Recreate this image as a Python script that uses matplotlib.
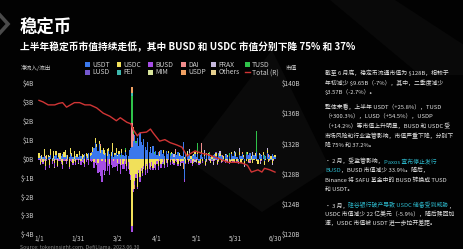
import matplotlib
matplotlib.use("Agg")
import matplotlib.pyplot as plt
from matplotlib.patches import Rectangle, Polygon
from matplotlib.lines import Line2D
from matplotlib.text import Annotation
import numpy as np

plt.rcParams['font.family'] = ['Noto Sans CJK SC', 'DejaVu Sans']

# ---------------------------------------------------------------- data ($B)
N_DAYS = 181
tick_days = [0, 30, 60, 90, 120, 150, 180]
tick_labels = ['1/1', '1/31', '3/2', '4/1', '5/1', '5/31', '6/30']
flow_ticks = [-4, -3, -2, -1, 0, 1, 2, 3, 4]
cap_ticks = [120, 124, 128, 132, 136, 140]

usdt = [
    0.05, 0.12, -0.05, 0.08, 0.15, 0.03, -0.08, 0.10, 0.06, 0.18,
    0.04, -0.06, 0.12, 0.20, 0.05, 0.09, -0.04, 0.14, 0.22, 0.07,
    0.10, 0.16, -0.05, 0.08, 0.25, 0.12, 0.06, -0.07, 0.15, 0.10,
    0.08, 0.18, 0.12, -0.06, 0.10, 0.22, 0.15, 0.05, 0.30, 0.12,
    0.20, 0.35, 0.55, 0.80, 0.62, 0.40, 0.75, 0.30, 0.45, 0.25,
    0.18, 0.30, 0.12, 0.40, 0.22, 0.15, 0.35, 0.10, 0.20, 0.28,
    0.15, 0.25, 0.10, 0.30, 0.18, 0.12, 0.35, 0.20, 0.15, 0.45,
    0.55, 0.60, 0.95, 1.25, 0.80, 1.10, 0.65, 1.35, 0.90, 0.70,
    1.05, 0.60, 0.45, 0.85, 0.35, 0.55, 0.30, 0.65, 0.25, 0.40,
    0.20, 0.35, 0.15, 0.45, 0.25, 0.30, 0.12, 0.38, 0.20, 0.28,
    0.15, 0.22, 0.30, 0.10, 0.25, 0.18, 0.32, 0.12, 0.20, 0.15,
    0.90, -1.10, 0.25, 0.18, 0.12, 0.30, -0.10, 0.20, 0.15, 0.25,
    0.10, 0.22, -0.12, 0.18, 0.30, 0.08, 0.15, -0.15, 0.20, 0.12,
    0.25, 0.10, -0.08, 0.18, 0.22, 0.12, -0.10, 0.28, 0.15, 0.20,
    0.10, -0.12, 0.18, 0.25, 0.08, 0.15, -0.10, 0.22, 0.12, 0.30,
    0.15, 0.10, -0.15, 0.20, 0.12, 0.25, 0.08, -0.12, 0.18, 0.22,
    0.10, 0.30, -0.08, 0.15, 0.20, 0.12, 0.35, -0.10, 0.18, 0.25,
    0.12, 0.20, -0.15, 0.15, 0.28, 0.10, 0.18, -0.08, 0.22, 0.15,
    0.10,
]

usdc = [
    0.25, -0.30, 0.15, -0.20, 0.35, -0.40, 0.20, 0.10, -0.35, 0.30,
    -0.15, 0.40, -0.25, 0.20, -0.40, 0.15, 0.30, -0.20, -0.35, 0.25,
    0.35, -0.15, 0.20, -0.45, 0.30, 0.10, -0.25, 0.40, -0.20, 0.15,
    -0.10, 0.20, -0.15, 0.25, 0.10, -0.30, 0.15, 0.20, -0.10, 0.18,
    0.10, 0.25, -0.20, 0.30, 0.15, -0.25, 0.20, 0.35, -0.15, 0.30,
    0.25, -0.20, 0.40, 0.15, -0.30, 0.20, 0.45, -0.15, 0.10, 0.30,
    -0.25, 0.15, -0.35, 0.20, -0.30, -0.15, 0.10, -0.40, -0.20, -0.60,
    -0.90, -3.60, -1.60, -1.20, -0.80, -1.50, -0.60, -1.00, -0.50, -0.75,
    -0.40, -0.60, -0.30, -0.55, -0.25, -0.45, -0.20, -0.50, -0.30, -0.35,
    -0.15, -0.40, 0.10, -0.30, -0.20, 0.15, -0.35, -0.10, -0.25, 0.12,
    -0.20, 0.10, -0.15, -0.25, 0.12, -0.10, -0.30, 0.15, -0.20, -0.12,
    -0.15, 0.10, -0.25, 0.12, -0.20, -0.10, 0.15, -0.30, -0.12, 0.10,
    -0.20, 0.15, -0.10, -0.25, 0.12, -0.15, 0.10, -0.20, -0.12, 0.15,
    -0.10, -0.22, 0.12, -0.15, -0.08, 0.18, -0.20, -0.12, 0.10, -0.18,
    -0.12, 0.15, -0.20, -0.10, 0.12, -0.25, -0.08, 0.10, -0.15, -0.20,
    0.12, -0.15, -0.10, 0.15, -0.22, -0.08, 0.10, -0.18, -0.12, 0.15,
    -0.20, -0.10, 0.12, -0.25, -0.08, 0.15, -0.12, -0.20, 0.10, -0.15,
    -0.10, 0.12, -0.20, -0.08, 0.15, -0.18, -0.10, 0.12, -0.22, -0.10,
    0.10,
]

busd = [
    -0.10, -0.05, -0.15, -0.08, -0.12, -0.20, -0.06, -0.10, -0.15, -0.05,
    -0.12, -0.08, -0.18, -0.10, -0.05, -0.15, -0.10, -0.08, -0.20, -0.12,
    -0.06, -0.15, -0.10, -0.08, -0.12, -0.18, -0.10, -0.05, -0.14, -0.10,
    -0.15, -0.10, -0.20, -0.12, -0.25, -0.15, -0.18, -0.10, -0.22, -0.15,
    -0.20, -0.15, -0.30, -0.25, -0.35, -0.50, -0.70, -0.95, -1.10, -0.60,
    -0.80, -0.45, -0.65, -0.40, -0.55, -0.35, -0.50, -0.30, -0.45, -0.38,
    -0.40, -0.30, -0.45, -0.35, -0.28, -0.42, -0.30, -0.25, -0.35, -0.20,
    -0.25, -0.30, -0.15, -0.20, -0.25, -0.12, -0.18, -0.22, -0.15, -0.20,
    -0.18, -0.25, -0.12, -0.20, -0.30, -0.15, -0.22, -0.10, -0.18, -0.25,
    -0.15, -0.20, -0.12, -0.18, -0.10, -0.22, -0.15, -0.12, -0.20, -0.10,
    -0.12, -0.08, -0.15, -0.10, -0.12, -0.08, -0.10, -0.15, -0.06, -0.10,
    -0.08, -0.12, -0.06, -0.10, -0.08, -0.05, -0.12, -0.08, -0.10, -0.06,
    -0.05, -0.08, -0.10, -0.06, -0.05, -0.08, -0.04, -0.07, -0.05, -0.06,
    -0.05, -0.04, -0.06, -0.05, -0.03, -0.06, -0.04, -0.05, -0.03, -0.04,
    -0.04, -0.03, -0.05, -0.04, -0.03, -0.05, -0.02, -0.04, -0.03, -0.04,
    -0.03, -0.04, -0.02, -0.03, -0.04, -0.02, -0.03, -0.02, -0.03, -0.02,
    -0.02, -0.03, -0.02, -0.01, -0.02, -0.03, -0.02, -0.01, -0.02, -0.01,
    -0.01, -0.02, -0.01, -0.02, -0.01, -0.01, -0.02, -0.01, -0.01, -0.01,
    -0.01,
]

# smaller coins: only the days with a visible flow
dai_days = {5: 0.08, 20: -0.06, 47: 0.10, 71: 1.30, 72: 0.35, 73: -0.20,
            92: 0.15, 104: 0.12, 124: 0.40, 140: 0.10, 161: -0.10, 175: 0.12}
frax_days = {15: 0.05, 50: -0.05, 103: 0.15, 108: -0.12, 115: 0.18, 119: -0.15,
             126: 0.20, 133: -0.12, 138: 0.15, 144: -0.18, 149: 0.12, 153: 0.20,
             157: -0.15, 163: 0.18, 169: -0.12, 174: 0.15, 178: -0.10}
tusd_days = {62: 0.10, 66: 0.12, 71: 1.40, 72: 0.20, 74: 0.15, 88: 0.12,
             100: 0.15, 121: 0.45, 130: 0.12, 145: 0.15, 158: 0.18, 166: 1.10,
             172: 0.20}
lusd_days = {40: 0.05, 98: 0.06, 135: 0.05, 160: 0.06}
fei_days = {10: -0.04, 71: 0.15, 95: -0.05, 150: 0.05}
mim_days = {8: 0.06, 30: -0.05, 60: 0.05, 113: 0.08, 142: 0.06}
usdp_days = {71: 0.35, 72: 0.15, 110: -0.30, 128: 0.08, 155: 0.07}
others_days = {2: 0.06, 12: -0.05, 25: 0.08, 85: 0.06, 118: 0.10, 147: -0.08,
               170: 0.09}

# total stablecoin market cap ($B)
total_days = [0, 3, 7, 12, 15, 18, 21, 24, 27, 31, 35, 39, 44, 49, 54, 59, 62,
              67, 70, 72, 75, 77, 82, 85, 87, 92, 96, 100, 105, 109, 113, 115,
              119, 124, 129, 134, 140, 144, 150, 155, 159, 162, 167, 170, 172,
              176, 180]
total_values = [137.7, 137.5, 137.1, 137.1, 137.3, 137.4, 136.8, 137.1, 137.4,
                137.4, 137.1, 137.1, 136.7, 136.0, 135.6, 135.0, 135.4, 134.8,
                134.6, 133.8, 133.0, 133.4, 133.5, 133.9, 133.4, 132.3, 132.5,
                132.1, 131.8, 131.5, 130.3, 130.6, 131.0, 130.7, 130.5, 130.2,
                129.8, 129.5, 129.5, 129.4, 129.1, 128.2, 128.5, 128.2, 128.7,
                128.5, 128.2]

series_names = ['USDT', 'USDC', 'BUSD', 'DAI', 'FRAX', 'TUSD',
                'LUSD', 'FEI', 'MIM', 'USDP', 'Others']
series_colors = ['#3a78ec', '#f1e05a', '#a64ee6', '#f08c8c', '#c6b8dc', '#2fc24a',
                 '#7458cf', '#3db8ad', '#d9e69c', '#f0a062', '#e6cf8e']
total_color = '#d03535'


def daily(events):
    arr = np.zeros(N_DAYS)
    for d, v in events.items():
        arr[d] = v
    return arr


series_values = [np.array(usdt), np.array(usdc), np.array(busd),
                 daily(dai_days), daily(frax_days), daily(tusd_days),
                 daily(lusd_days), daily(fei_days), daily(mim_days),
                 daily(usdp_days), daily(others_days)]

# ---------------------------------------------------------------- figure
W, H = 464, 249
BG = '#020202'
TXT = '#e4e4e4'
AXTXT = '#cfcfcf'
LINK = '#2cb6c9'

fig = plt.figure(figsize=(W / 100, H / 100), dpi=100, facecolor=BG)


def fx(x):
    return x / W


def fy(y):
    return 1 - y / H


# faint diagonal panels in the backdrop (kept behind everything)
for pts, col in [
    ([(272, 50), (188, 160), (262, 212), (330, 168)], '#0a0a0a'),
    ([(330, 0), (395, 0), (464, 45), (464, 75), (420, 75)], '#090909'),
]:
    fig.patches.append(Polygon([(fx(x), fy(y)) for x, y in pts], closed=True,
                               transform=fig.transFigure, facecolor=col,
                               edgecolor='none', zorder=-10))

# chevron mark at the top-left edge
fig.add_artist(Line2D([fx(-2), fx(8), fx(-2)], [fy(13), fy(24), fy(35)],
                      transform=fig.transFigure, color='#4a4a4a', lw=2.6,
                      solid_joinstyle='miter'))

# title and subtitle
fig.text(fx(20), fy(28), '稳定币', color='white', fontsize=12.5,
         fontweight='bold', ha='left', va='center')
fig.text(fx(20), fy(46.5),
         '上半年稳定币市值持续走低，其中 BUSD 和 USDC 市值分别下降 75% 和 37%',
         color='white', fontsize=7.0, fontweight='bold', ha='left', va='center')

# ---------------------------------------------------------------- chart
px_per_day = (275 - 39) / 180
x0 = -1.5
x1 = 181.5
left_px = 39 + x0 * px_per_day
right_px = 39 + x1 * px_per_day
ax = fig.add_axes([fx(left_px), fy(234), (right_px - left_px) / W, 151 / H])
ax.set_facecolor('none')
ax.set_zorder(1)

days = np.arange(N_DAYS)
pos_base = np.zeros(N_DAYS)
neg_base = np.zeros(N_DAYS)
for vals, col in zip(series_values, series_colors):
    pos = np.where(vals > 0, vals, 0.0)
    neg = np.where(vals < 0, vals, 0.0)
    ax.bar(days, pos, bottom=pos_base, width=0.9, color=col, linewidth=0)
    ax.bar(days, neg, bottom=neg_base, width=0.9, color=col, linewidth=0)
    pos_base += pos
    neg_base += neg

ax.set_xlim(x0, x1)
ax.set_ylim(-4, 4)
ax.set_yticks(flow_ticks)
ax.set_yticklabels([f'${v}B' for v in flow_ticks])
ax.set_xticks(tick_days)
ax.set_xticklabels(tick_labels)
ax.tick_params(axis='y', length=0, pad=2.2, labelsize=4.6, labelcolor=AXTXT)
ax.tick_params(axis='x', length=0, pad=1.0, labelsize=4.6, labelcolor=AXTXT)
for s in ax.spines.values():
    s.set_visible(False)

ax2 = ax.twinx()
ax2.set_zorder(2)
ax2.patch.set_visible(False)
ax2.plot(total_days, total_values, color=total_color, lw=1.0, zorder=5)
ax2.set_xlim(x0, x1)
ax2.set_ylim(120, 140)
ax2.set_yticks(cap_ticks)
ax2.set_yticklabels([f'${v}B' for v in cap_ticks])
ax2.tick_params(axis='y', length=0, pad=3.6, labelsize=4.6, labelcolor=AXTXT)
for s in ax2.spines.values():
    s.set_visible(False)

# axis captions
fig.text(fx(21), fy(68), '净流入/流出', color=AXTXT, fontsize=4.1,
         ha='left', va='center')
fig.text(fx(286), fy(68), '市值', color=AXTXT, fontsize=4.1,
         ha='left', va='center')

# legend, two rows of six entries
legend_cols = [85, 116.5, 148, 181.5, 211.5, 245]
legend_rows = [64.8, 72.3]
legend_items = list(zip(series_names, series_colors)) + [('Total (R)', None)]
for k, (name, col) in enumerate(legend_items):
    cx = legend_cols[k % 6]
    cy = legend_rows[k // 6]
    if col is None:
        fig.add_artist(Line2D([fx(cx), fx(cx + 5)], [fy(cy), fy(cy)],
                              transform=fig.transFigure, color=total_color,
                              lw=1.0))
    else:
        fig.patches.append(Rectangle((fx(cx), fy(cy + 2.4)), 4.8 / W, 4.8 / H,
                                     transform=fig.transFigure, facecolor=col,
                                     edgecolor='none'))
    fig.text(fx(cx + 7), fy(cy), name, color=AXTXT, fontsize=4.9,
             ha='left', va='center')

# source note
fig.text(fx(20), fy(247.5), 'Source: tokeninsight.com, DefiLlama, 2023.06.30',
         color='#8a8a8a', fontsize=3.8, ha='left', va='center')

# ---------------------------------------------------------------- commentary
TS = 4.2


def text_line(x, y, segments):
    prev = None
    for s, col in segments:
        if prev is None:
            prev = fig.text(fx(x), fy(y), s, color=col, fontsize=TS,
                            ha='left', va='center')
        else:
            prev = Annotation(s, xy=(1, 0), xycoords=prev, color=col,
                              fontsize=TS, ha='left', va='bottom',
                              annotation_clip=False)
            fig.add_artist(prev)


lines = [
    (325, 73, [('截至 6 月底，稳定币流通市值为 $128B，相较于', TXT)]),
    (325, 82.5, [('年初减少 $9.65B（-7%），其中，二季度减少', TXT)]),
    (325, 92, [('$3.57B（-2.7%）。', TXT)]),
    (325, 107, [('整体来看，上半年 USDT（+25.8%），TUSD', TXT)]),
    (325, 116.5, [('（+300.3%），LUSD（+54.5%），USDP', TXT)]),
    (325, 126, [('（+14.2%）等市值上升明显，BUSD 和 USDC 受', TXT)]),
    (325, 135.5, [('市场风险和行业监管影响，市值严重下降，分别下', TXT)]),
    (325, 145, [('降 75% 和 37.2%。', TXT)]),
    (325, 161, [('• 2 月，受监管影响，', TXT), ('Paxos 宣布停止发行', LINK)]),
    (325, 170.5, [('BUSD', LINK), ('，BUSD 市值减少 33.9%。随后，', TXT)]),
    (325, 180, [('Binance 将 SAFU 基金中的 BUSD 转换成 TUSD', TXT)]),
    (325, 189.5, [('和 USDT。', TXT)]),
    (325, 205, [('• 3 月，', TXT), ('硅谷银行破产导致 USDC 储备受到威胁', LINK),
                ('，', TXT)]),
    (325, 214, [('USDC 市值减少 22 亿美元（-5.9%），随后赎回加', TXT)]),
    (325, 223, [('速，USDC 市值被 USDT 进一步拉开差距。', TXT)]),
]
for x, y, segs in lines:
    text_line(x, y, segs)

fig.savefig('out.png', dpi=100, facecolor=BG)
